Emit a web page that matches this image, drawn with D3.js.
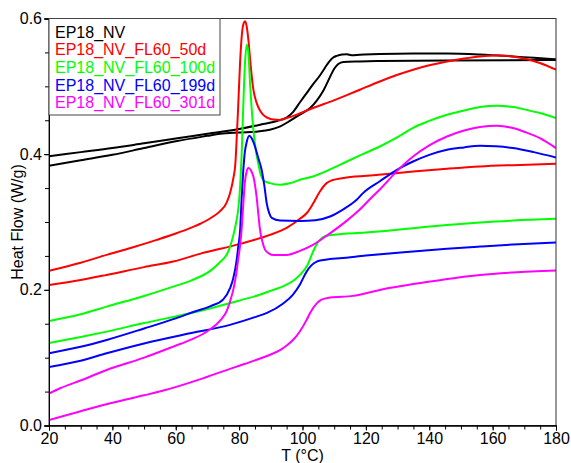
<!DOCTYPE html>
<html>
<head>
<meta charset="utf-8">
<script src="https://cdn.jsdelivr.net/npm/d3@7"></script>
<style>
  html, body { margin: 0; padding: 0; background: #fff; }
  svg { display: block; font-family: "Liberation Sans", Arial, sans-serif; }
</style>
</head>
<body>
<svg id="chart" width="571" height="463"></svg>
<script>
// ---------------- data (T in °C, heat flow in W/g) ----------------
const seriesNames = ["EP18_NV", "EP18_NV_FL60_50d", "EP18_NV_FL60_100d", "EP18_NV_FL60_199d", "EP18_NV_FL60_301d"];
const seriesColors = ["#000000", "#ff0000", "#00ff00", "#0000ff", "#ff00ff"];

const xTickLabels = [20, 40, 60, 80, 100, 120, 140, 160, 180];
const yTickLabels = [0.0, 0.2, 0.4, 0.6];

const nvRun1 = [[20,0.397],[30,0.403],[40,0.409],[50,0.416],[60,0.423],[70,0.430],[80,0.437],[87.6,0.4444],[92,0.449],[95,0.454],[97,0.462],[99.2,0.4765],[101.3,0.490],[103.3,0.503],[105.5,0.516],[106.5,0.523],[107.6,0.531],[108.7,0.538],[109.7,0.5425],[110.8,0.545],[112.5,0.547],[114,0.5472],[115.5,0.546],[118,0.5465],[124.4,0.5477],[135,0.5485],[145.6,0.5485],[156,0.547],[166.4,0.5441],[173,0.542],[180,0.540]];
const nvRun2 = [[20,0.383],[30,0.391],[40,0.399],[50,0.409],[60,0.419],[70,0.427],[74,0.430],[80,0.432],[86,0.4335],[89.7,0.436],[93,0.441],[96,0.449],[99,0.458],[102.4,0.468],[104.5,0.479],[106.6,0.494],[108.7,0.514],[110,0.526],[111.3,0.533],[112.9,0.5359],[118,0.5367],[124.4,0.5373],[145.6,0.5382],[180,0.5388]];

const d50Run1 = [[20,0.228],[30,0.240],[38.2,0.2515],[46,0.262],[54,0.2737],[60,0.283],[64.5,0.2909],[68,0.298],[71.8,0.3081],[74,0.316],[76.1,0.329],[77.1,0.342],[78.2,0.365],[78.8,0.385],[79.3,0.43],[79.7,0.47],[80.3,0.535],[80.9,0.578],[81.5,0.594],[81.9,0.596],[82.4,0.588],[83,0.565],[83.5,0.538],[84.5,0.495],[85.5,0.476],[86.5,0.465],[87.6,0.458],[89,0.4535],[90.8,0.451],[92.9,0.4505],[95,0.4532],[98,0.458],[103.3,0.468],[109.7,0.479],[114,0.487],[118.1,0.495],[124.4,0.5072],[130,0.517],[134.9,0.5245],[140,0.531],[145.6,0.5367],[151,0.541],[156,0.5441],[161.4,0.5456],[166.4,0.5441],[171,0.540],[174.9,0.5344],[180,0.5245]];
const d50Run2 = [[20,0.207],[30,0.2145],[38.2,0.222],[50,0.2335],[59.2,0.2417],[67.6,0.253],[80.3,0.2678],[89.7,0.281],[95,0.2914],[99.2,0.3047],[101.5,0.314],[103.3,0.3268],[105.5,0.345],[107.6,0.3573],[109.3,0.3615],[110.8,0.3632],[113.9,0.3656],[124,0.3695],[134.9,0.3745],[145.6,0.3785],[156,0.3818],[166.4,0.3838],[180,0.3858]];

const d100Run1 = [[20,0.154],[30,0.164],[38.2,0.1753],[50,0.191],[59.2,0.2048],[65,0.214],[69.8,0.2245],[72,0.232],[74,0.241],[76.1,0.252],[77.1,0.263],[78.2,0.281],[79.2,0.303],[79.7,0.318],[80.3,0.352],[80.8,0.40],[81.3,0.47],[81.8,0.53],[82.4,0.5614],[82.9,0.55],[83.5,0.50],[84.5,0.436],[85.3,0.405],[86,0.387],[86.8,0.370],[87.6,0.362],[89.7,0.3573],[92.9,0.3548],[96,0.357],[99.2,0.3622],[103.3,0.3671],[108,0.376],[114,0.3892],[119,0.400],[124.4,0.4113],[130,0.425],[134.9,0.4389],[140,0.449],[145.6,0.4581],[151,0.4645],[156,0.4695],[161.4,0.4714],[166.4,0.4695],[171,0.465],[174.9,0.4606],[180,0.4532]];
const d100Run2 = [[20,0.1215],[30,0.1305],[38.2,0.1384],[50,0.151],[64.5,0.1655],[72,0.174],[80.3,0.1845],[86,0.192],[90.8,0.200],[94,0.2055],[97,0.213],[99.2,0.222],[101.5,0.236],[103.3,0.256],[105,0.271],[106.5,0.2777],[108,0.2800],[109.6,0.2811],[120,0.2845],[134.9,0.2909],[145.6,0.2955],[156,0.2992],[166.4,0.3022],[180,0.3047]];

const d199Run1 = [[20,0.1065],[30,0.116],[38.2,0.1261],[50,0.143],[60,0.158],[66,0.168],[71,0.176],[75,0.186],[77.1,0.202],[78.2,0.218],[79.2,0.243],[79.7,0.263],[80.3,0.287],[80.8,0.335],[81.3,0.375],[81.8,0.403],[82.4,0.418],[83.2,0.4271],[84,0.423],[85,0.4113],[86,0.395],[87.1,0.377],[88,0.352],[88.7,0.3278],[89.5,0.313],[90.3,0.306],[92.9,0.3022],[99.2,0.3015],[104,0.3025],[108.7,0.3081],[113,0.319],[117.1,0.3327],[119.1,0.3426],[124.4,0.360],[129.8,0.3770],[134.9,0.3892],[140,0.399],[145.6,0.4065],[151,0.410],[156,0.4124],[161,0.4115],[166.4,0.409],[173,0.403],[180,0.3951]];
const d199Run2 = [[20,0.0863],[30,0.0955],[38.2,0.1065],[50,0.121],[64.5,0.136],[77.1,0.1483],[85.5,0.1605],[88.8,0.166],[93.8,0.1795],[97,0.193],[99.2,0.208],[101.3,0.2269],[102.8,0.236],[104.5,0.2417],[106,0.2435],[108.7,0.2456],[111.8,0.2467],[120,0.2505],[134.9,0.2564],[145.6,0.2605],[156,0.2638],[166.4,0.2668],[180,0.2697]];

const d301Run1 = [[20,0.047],[23.5,0.0549],[30.4,0.0671],[38.2,0.0819],[50,0.100],[59.2,0.1163],[65,0.127],[70,0.139],[74,0.1545],[76.1,0.169],[77.1,0.1825],[78.2,0.201],[79.2,0.227],[79.7,0.245],[80.3,0.265],[80.8,0.29],[81.3,0.325],[81.8,0.358],[82.4,0.375],[82.9,0.3795],[83.6,0.377],[84.5,0.367],[85.5,0.3376],[86.1,0.31],[86.6,0.2884],[87.4,0.270],[88.2,0.2589],[89.5,0.2535],[90.8,0.2515],[95,0.2515],[99.2,0.2575],[103.3,0.2663],[108,0.281],[114,0.302],[118,0.318],[122.2,0.338],[124.4,0.348],[129.8,0.375],[134.9,0.3966],[140,0.413],[145.6,0.4261],[151,0.435],[156,0.440],[161.4,0.4419],[166.4,0.4385],[170,0.433],[174.9,0.4237],[180,0.409]];
const d301Run2 = [[20,0.008],[30,0.021],[40,0.0335],[50,0.0445],[56.1,0.0515],[67.6,0.068],[77.1,0.0835],[80.3,0.0885],[85,0.096],[88.8,0.1025],[92.9,0.111],[95,0.118],[97,0.126],[99.2,0.139],[101.3,0.1557],[102.4,0.166],[104.5,0.180],[106,0.1855],[108.7,0.1886],[115.9,0.1911],[124.4,0.1999],[140.2,0.2122],[156,0.222],[166.4,0.2255],[180,0.2284]];

const curveRuns = [
  [nvRun1, nvRun2],
  [d50Run1, d50Run2],
  [d100Run1, d100Run2],
  [d199Run1, d199Run2],
  [d301Run1, d301Run2]
];

// ---------------- drawing ----------------
const svg = d3.select("#chart");
const L = 49, R = 556, T = 18.5, B = 425.5;
const x = d3.scaleLinear().domain([20, 180]).range([L, R]);
const y = d3.scaleLinear().domain([0, 0.6]).range([B, T]);

svg.append("defs").append("clipPath").attr("id", "clip")
  .append("rect").attr("x", L).attr("y", T).attr("width", R - L).attr("height", B - T);

const line = d3.line().x(d => x(d[0])).y(d => y(d[1])).curve(d3.curveMonotoneX);

const plot = svg.append("g").attr("clip-path", "url(#clip)");
curveRuns.forEach((runs, i) => {
  runs.forEach(run => {
    plot.append("path").datum(run)
      .attr("d", line)
      .attr("fill", "none")
      .attr("stroke", seriesColors[i])
      .attr("stroke-width", 2)
      .attr("stroke-linejoin", "round");
  });
});

// frame
svg.append("rect").attr("x", L).attr("y", T).attr("width", R - L).attr("height", B - T)
  .attr("fill", "none").attr("stroke", "#333").attr("stroke-width", 1);

// y axis
const yMinor = d3.range(0, 0.6001, 0.05);
const yAxis = svg.append("g").attr("transform", `translate(${L},0)`)
  .call(d3.axisLeft(y).tickValues(yMinor).tickSize(4).tickFormat(""));
const yLab = svg.append("g").attr("transform", `translate(${L},0)`)
  .call(d3.axisLeft(y).tickValues(yTickLabels).tickSize(5).tickPadding(2).tickFormat(d3.format(".1f")));
[yAxis, yLab].forEach(g => {
  g.select(".domain").attr("stroke", "#000");
  g.selectAll(".tick line").attr("stroke", "#000");
  g.selectAll("text").attr("font-size", 16).attr("fill", "#000")
    .attr("font-family", "'Liberation Sans', Arial, sans-serif");
});

// x axis
const xMinor = d3.range(20, 180.001, 5);
const xAxis = svg.append("g").attr("transform", `translate(0,${B})`)
  .call(d3.axisBottom(x).tickValues(xMinor).tickSize(4).tickFormat(""));
const xLab = svg.append("g").attr("transform", `translate(0,${B})`)
  .call(d3.axisBottom(x).tickValues(xTickLabels).tickSize(5).tickPadding(2).tickFormat(d3.format("d")));
[xAxis, xLab].forEach(g => {
  g.select(".domain").attr("stroke", "#000");
  g.selectAll(".tick line").attr("stroke", "#000");
  g.selectAll("text").attr("font-size", 16).attr("fill", "#000")
    .attr("font-family", "'Liberation Sans', Arial, sans-serif");
});

// axis titles
svg.append("text").attr("x", (L + R) / 2).attr("y", 461)
  .attr("text-anchor", "middle").attr("font-size", 16).text("T (°C)");
svg.append("text").attr("transform", `translate(23,${(T + B) / 2}) rotate(-90)`)
  .attr("text-anchor", "middle").attr("font-size", 16).text("Heat Flow (W/g)");

// legend
const lg = svg.append("g");
lg.append("rect").attr("x", L).attr("y", T).attr("width", 171).attr("height", 96.5)
  .attr("fill", "#fff").attr("stroke", "#444").attr("stroke-width", 1);
seriesNames.forEach((name, i) => {
  lg.append("text").attr("x", 55).attr("y", 37.5 + i * 17.7)
    .attr("font-size", 16).attr("fill", seriesColors[i]).text(name);
});
</script>
</body>
</html>
